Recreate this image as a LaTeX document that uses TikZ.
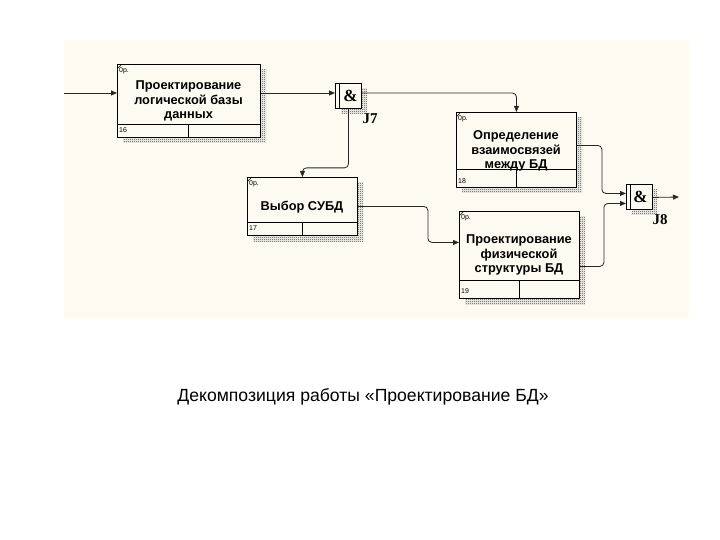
\documentclass[tikz,border=0pt]{standalone}
\usepackage{fontspec}
\setmainfont{Liberation Sans}
\newfontfamily\serifb{Liberation Serif}
\usetikzlibrary{arrows.meta,patterns,calc}
\definecolor{bgc}{RGB}{253,251,241}
\definecolor{lnc}{RGB}{40,40,40}
\pgfdeclarepatternformonly{finecheck}{\pgfqpoint{0pt}{0pt}}{\pgfqpoint{2pt}{2pt}}{\pgfqpoint{2pt}{2pt}}{%
  \pgfpathrectangle{\pgfqpoint{0pt}{0pt}}{\pgfqpoint{1pt}{1pt}}%
  \pgfpathrectangle{\pgfqpoint{1pt}{1pt}}{\pgfqpoint{1pt}{1pt}}%
  \pgfusepath{fill}}
\tikzset{
  actbox/.style={draw=black, line width=0.9pt, fill=bgc, anchor=north west, inner sep=0pt},
  jbox/.style={draw=black, line width=0.9pt, fill=bgc, anchor=north west, inner sep=0pt, minimum width=26pt, minimum height=25pt},
  shad/.style={pattern=finecheck, pattern color=black!75},
  ttl/.style={font=\bfseries\fontsize{12.8}{14.8}\selectfont, align=center, inner sep=0pt},
  small/.style={font=\fontsize{7}{8}\selectfont, inner sep=0pt, anchor=west},
  jlab/.style={font=\serifb\bfseries\fontsize{15}{16}\selectfont, inner sep=0pt},
  amp/.style={font=\serifb\bfseries\fontsize{17}{18}\selectfont, inner sep=0pt},
  arr/.style={draw=lnc, line width=0.8pt, -{Triangle[length=6pt,width=5pt]}, rounded corners=4pt}
}
\begin{document}
\begin{tikzpicture}[x=1pt,y=-1pt]
\useasboundingbox (0,0) rectangle (720,540);
\fill[bgc] (64,40) rectangle (689,318);
% shadows
\fill[shad] (123,70) rectangle (266,143);
\fill[shad] (462,118) rectangle (582,193);
\fill[shad] (253,183) rectangle (363,241);
\fill[shad] (465,217) rectangle (585,304);
\fill[shad] (341,89) rectangle (367,114);
\fill[shad] (632,190) rectangle (657,215);
% activity boxes
\node[actbox, minimum width=143pt, minimum height=73pt] (b16) at (117,64) {};
\node[actbox, minimum width=120pt, minimum height=75pt] (b18) at (456,112) {};
\node[actbox, minimum width=110pt, minimum height=58pt] (b17) at (247,177) {};
\node[actbox, minimum width=120pt, minimum height=87pt] (b19) at (459,211) {};
% dividers
\draw[line width=0.8pt] (117,124) -- (260,124) (188,124) -- (188,137);
\draw[line width=0.8pt] (456,169) -- (576,169) (516,169) -- (516,187);
\draw[line width=0.8pt] (247,222) -- (357,222) (302,222) -- (302,235);
\draw[line width=0.8pt] (459,280) -- (579,280) (519,280) -- (519,298);
% corner ticks and cost labels
\foreach \x/\y in {117/64,456/112,247/177,459/211}{
  \draw[line width=0.5pt] (\x+0.5,\y+4.5) -- (\x+4.5,\y+0.5);
  \node[small] at (\x+2,\y+7) {0р.};
}
\node[small] at (119,130.5) {16};
\node[small] at (458,181) {18};
\node[small] at (249,228.5) {17};
\node[small] at (461,291) {19};
% titles
\node[ttl] (t16) at (188.5,101) {Проектирование\\логической базы\\данных};
\node[ttl] (t18) at (516,151) {Определение\\взаимосвязей\\между БД};
\node[ttl] (t17) at (302,207) {Выбор СУБД};
\node[ttl] (t19) at (519,255) {Проектирование\\физической\\структуры БД};
% junctions
\node[jbox] (j7) at (335,83) {};
\draw[line width=0.8pt] (339,83) -- (339,108);
\node[amp] (a7) at (350.5,96) {\&};
\node[jlab] (l7) at (370,119) {J7};
\node[jbox] (j8) at (626,184) {};
\draw[line width=0.8pt] (630,184) -- (630,209);
\node[amp] (a8) at (640.5,197) {\&};
\node[jlab] (l8) at (660,220) {J8};
% connectors
\coordinate (in0) at (64,93);
\coordinate (out8) at (679,197);
\draw[arr] (in0) -- (in0 -| b16.west);
\draw[arr] (b16.east |- in0) -- (j7.west |- in0);
\draw[arr] (j7.east |- in0) -| (b18.north);
\draw[arr] (j7.south) -- ++(0,59) -| (b17.north);
\draw[arr] (b17.east) -- ++(70,0) |- ($(b19.west)+(0,-12.5)$);
\draw[arr] ($(b18.east)+(0,-4.5)$) -- ++(25,0) |- ($(j8.west)+(0,-3.5)$);
\draw[arr] ($(b19.east)+(0,11.5)$) -- ++(24,0) |- ($(j8.west)+(0,6.5)$);
\draw[arr] ($(j8.east)+(0,0.5)$) -- (out8);
% caption
\node[font=\fontsize{17.6}{20}\selectfont, inner sep=0pt, anchor=base] (cap) at (363,401) {Декомпозиция работы «Проектирование БД»};
\end{tikzpicture}
\end{document}
